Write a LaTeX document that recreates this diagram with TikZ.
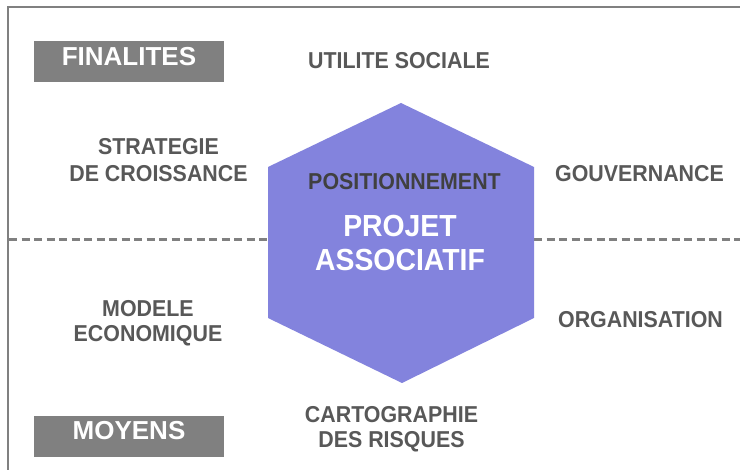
\documentclass[tikz,border=0pt]{standalone}
\usepackage{fontspec}
\setmainfont{Liberation Sans}
\newfontfamily\narrowfont[FakeStretch=0.93]{Liberation Sans}
\definecolor{hexfill}{RGB}{131,131,221}
\definecolor{labelgray}{RGB}{88,88,88}
\definecolor{boxgray}{RGB}{128,128,128}
\definecolor{darklabel}{RGB}{64,64,64}
\begin{document}
\begin{tikzpicture}[x=1pt,y=-1pt,
  catbox/.style={fill=boxgray, text=white, inner xsep=0pt, inner ysep=0pt,
    minimum width=190pt, text height=25pt, text depth=16pt, anchor=base,
    font=\fontsize{26}{30}\selectfont\bfseries},
  lbl/.style={text=labelgray, inner sep=0pt, anchor=base, align=center,
    font=\narrowfont\fontsize{23}{26}\selectfont\bfseries},
  core/.style={text=white, inner sep=0pt, anchor=base, align=center,
    font=\narrowfont\fontsize{30.5}{34}\selectfont\bfseries},
  frameline/.style={draw=boxgray, line width=2.5pt},
  divider/.style={draw=boxgray, line width=3pt, dash pattern=on 8pt off 4.5pt}]
\useasboundingbox (0,0) rectangle (740,470);
\fill[white] (0,0) rectangle (740,470);
% frame
\coordinate (fbl) at (8,472);
\coordinate (ftl) at (8,7);
\coordinate (ftr) at (742,7);
\draw[frameline] (fbl) -- (ftl) -- (ftr);
% divider
\coordinate (dl) at (9,240);
\coordinate (dr) at (740,240);
\draw[divider] (dl) -- (dr);
% hexagon
\fill[hexfill] (401,103) -- (534,167) -- (534,318) -- (402,383) -- (268,318) -- (268,167) -- cycle;
% category boxes
\node[catbox] (fin) at (129,66) {FINALITES};
\node[catbox, text height=24pt, text depth=17pt] (moy) at (129,440) {MOYENS};
% labels (multi-line nodes: base = last line's baseline)
\node[lbl] (util) at (399,69) {UTILITE SOCIALE};
\node[lbl] (strat) at (158.5,182) {STRATEGIE\\[1pt]DE CROISSANCE};
\node[lbl] (gouv) at (639.5,182) {GOUVERNANCE};
\node[lbl, text=darklabel] (pos) at (404.5,190) {POSITIONNEMENT};
\node[core] (proj) at (400,271) {PROJET\\ASSOCIATIF};
\node[lbl] (mod) at (148,342) {MODELE\\[-1pt]ECONOMIQUE};
\node[lbl] (orga) at (640.5,328) {ORGANISATION};
\node[lbl] (carto) at (391.5,448) {CARTOGRAPHIE\\[-1pt]DES RISQUES};
\end{tikzpicture}
\end{document}
